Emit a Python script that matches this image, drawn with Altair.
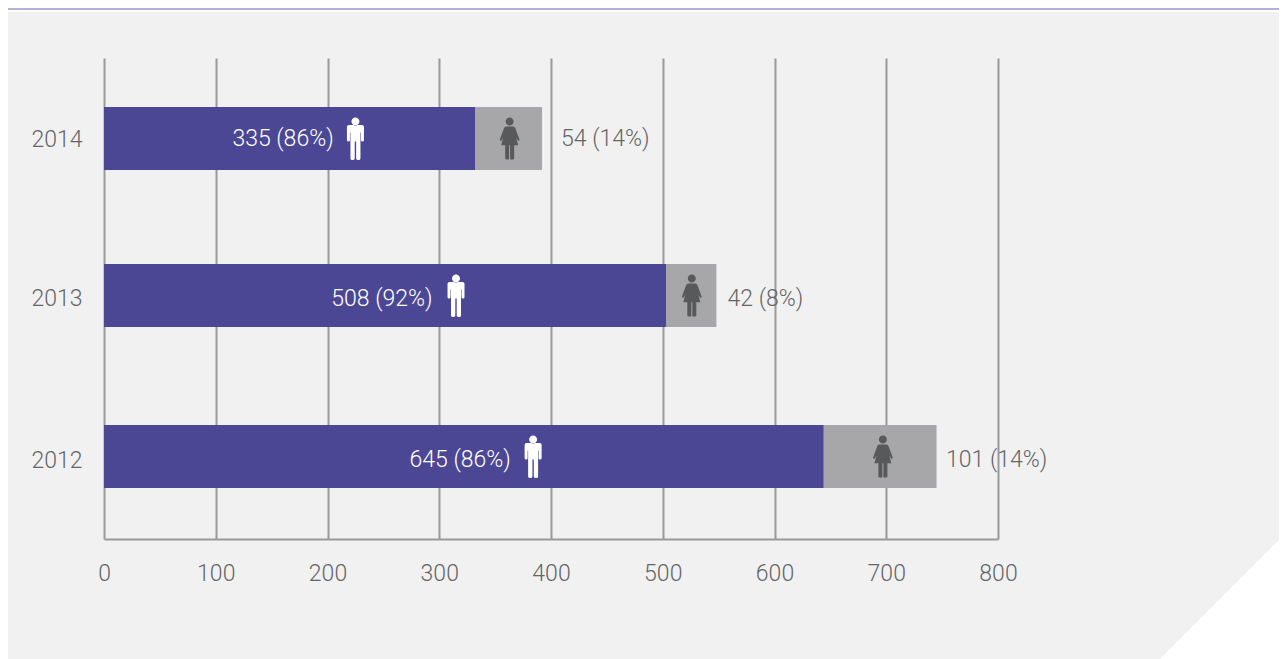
import altair as alt
import pandas as pd

years = [2014, 2013, 2012]
men_bar = [332, 503, 644]
women_bar = [60, 45, 101]
men_labels = ["335 (86%)", "508 (92%)", "645 (86%)"]
women_labels = ["54 (14%)", "42 (8%)", "101 (14%)"]
men_label_x = [205.5, 294, 364]
women_label_x = [409, 558, 753.5]
men_icon_x = [225, 315, 384]
women_icon_x = [363, 526, 697]
x_ticks = [0, 100, 200, 300, 400, 500, 600, 700, 800]

PURPLE = "#4c4794"
GREY = "#a7a7aa"
BG = "#f1f1f1"
DARK = "#58595b"
TEXT = "#656668"
LINE = "#9a9a9c"
FONT = "Roboto"
FS = 23

HEAD = "M-4,-17a4,4 0 1,0 8,0a4,4 0 1,0 -8,0Z"
MAN = HEAD + ("M-6.5,-13.5L6.5,-13.5Q8.5,-13.5 8.5,-11.5L8.5,1.5Q8.5,3 7,3Q5.5,3 5.5,1.5L5.5,-6L5,-6"
              "L5,20Q5,21.5 3,21.5Q0.7,21.5 0.7,20L0.7,3L-0.7,3L-0.7,20Q-0.7,21.5 -3,21.5Q-5,21.5 -5,20"
              "L-5,-6L-5.5,-6L-5.5,1.5Q-5.5,3 -7,3Q-8.5,3 -8.5,1.5L-8.5,-11.5Q-8.5,-13.5 -6.5,-13.5Z")
WOMAN = HEAD + ("M-3.5,-12L3.5,-12Q5,-12 5.6,-10.5L10,1.5L8.5,2.5L6.5,-1L8.5,6.7L4.5,6.7L4.5,20Q4.5,21 3,21L1,21"
                "Q0.5,21 0.5,20L0.5,6.7L-0.5,6.7L-0.5,20Q-0.5,21 -1,21L-3,21Q-4.5,21 -4.5,20L-4.5,6.7L-8.5,6.7"
                "L-6.5,-1L-8.5,2.5L-10,1.5L-5.6,-10.5Q-5,-12 -3.5,-12Z")

df = pd.DataFrame({
    "year": years,
    "zero": [0, 0, 0],
    "men": men_bar,
    "total": [a + b for a, b in zip(men_bar, women_bar)],
    "men_label": men_labels,
    "women_label": women_labels,
    "men_label_x": men_label_x,
    "women_label_x": women_label_x,
    "men_icon_x": men_icon_x,
    "women_icon_x": women_icon_x,
})
base = alt.Chart(df)
one = alt.Chart(pd.DataFrame({"a": [0]}))

x_scale = alt.Scale(domain=[0, 800], nice=False, zero=True, padding=0)
x_axis = alt.Axis(
    values=x_ticks, title=None, grid=True, gridColor=LINE, gridWidth=2, gridOpacity=1,
    domainColor=LINE, domainWidth=2, ticks=False, labelFont=FONT, labelFontSize=FS,
    labelFontWeight=300, labelColor=TEXT, labelPadding=23, labelOverlap=False, labelFlush=False,
)
y_bar_scale = alt.Scale(domain=[2011.487, 2012, 2013, 2014, 2014.513], range=[481, 398.5, 237.5, 80.5, 0],
                        nice=False, zero=False, padding=0)
y_text_scale = alt.Scale(domain=[2011.511, 2012, 2013, 2014, 2014.506], range=[481, 402, 240.5, 81, 0],
                         nice=False, zero=False, padding=0)


def X(field):
    return alt.X(field, title=None, scale=x_scale)


y_b = alt.Y("year:Q", title=None, axis=None, scale=y_bar_scale)
y_l = alt.Y("year:Q", title=None, axis=None, scale=y_text_scale)
y_t = alt.Y("year:Q", title=None, scale=y_text_scale, axis=alt.Axis(
    values=years, format="d", domain=False, ticks=False, grid=False, labelFont=FONT, labelFontSize=FS,
    labelFontWeight=300, labelColor=TEXT, labelPadding=22, title=None, labelOverlap=False, labelFlush=False))

top_white = one.mark_rect(color="white").encode(
    x=alt.value(-96), x2=alt.value(1175), y=alt.value(-50), y2=alt.value(-46))
top_line = one.mark_rect(color="#b6b0d8").encode(
    x=alt.value(-96), x2=alt.value(1175), y=alt.value(-50), y2=alt.value(-48))
corner = one.mark_point(shape="M0,-119L0,0L-119,0Z", size=4, filled=True, color="white", opacity=1).encode(
    x=alt.value(1175), y=alt.value(601))

axis_layer = base.mark_text(opacity=0).encode(x=alt.X("men:Q", title=None, scale=x_scale, axis=x_axis), y=y_t)
grey_bar = base.mark_bar(size=63, color=GREY).encode(x=X("men:Q"), x2="total:Q", y=y_b)
purple_bar = base.mark_bar(size=63, color=PURPLE).encode(x=X("zero:Q"), x2="men:Q", y=y_b)
man = base.mark_point(shape=MAN, size=4, filled=True, color="white", opacity=1).encode(x=X("men_icon_x:Q"), y=y_b)
woman = base.mark_point(shape=WOMAN, size=4, filled=True, color=DARK, opacity=1).encode(x=X("women_icon_x:Q"), y=y_b)
text_style = dict(font=FONT, fontSize=FS, fontWeight=300, baseline="middle")
men_text = base.mark_text(color="white", align="right", **text_style).encode(
    x=X("men_label_x:Q"), y=y_l, text="men_label:N")
women_text = base.mark_text(color=TEXT, align="left", **text_style).encode(
    x=X("women_label_x:Q"), y=y_l, text="women_label:N")

bars = alt.layer(grey_bar, purple_bar, man, woman)
labels = alt.layer(men_text, women_text)

chart = alt.layer(top_white, top_line, corner, axis_layer, bars, labels).resolve_scale(y="independent").properties(
    width=894, height=481,
    padding={"left": 96, "top": 50, "right": 281, "bottom": 120},
    autosize=alt.AutoSizeParams(type="none"),
    background=BG,
).configure_view(stroke=None)

chart.save("out.html", embed_options={"renderer": "svg", "actions": False})
